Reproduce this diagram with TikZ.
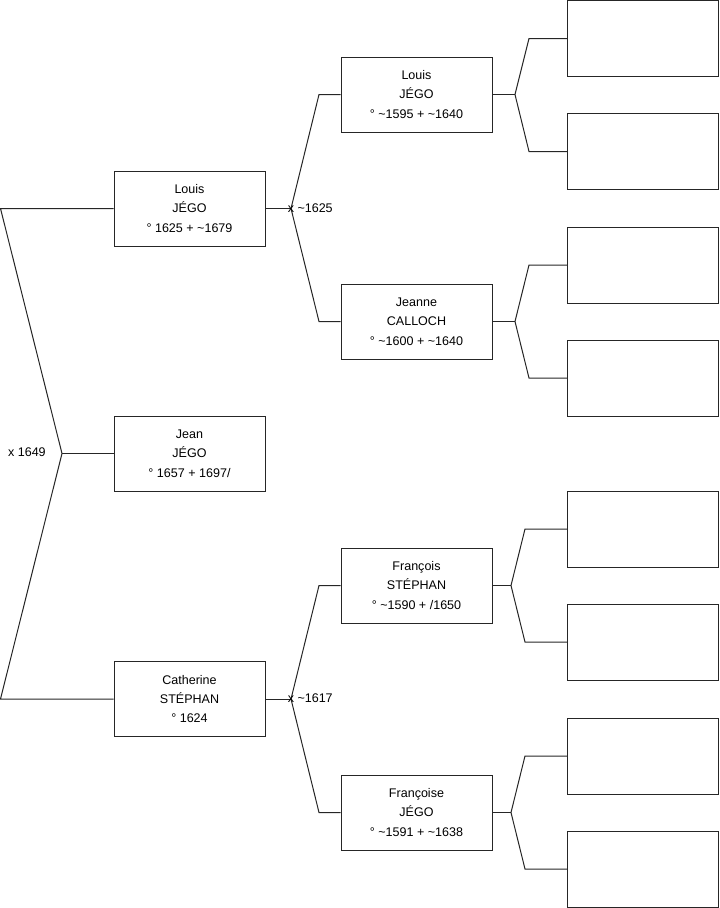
\documentclass[tikz,border=0pt]{standalone}
\usepackage{fontspec}
\setmainfont{Liberation Sans}
\usetikzlibrary{positioning, calc}

\begin{document}
\begin{tikzpicture}[
    x=0.75pt, y=-0.75pt,
    person/.style={draw=black!85, line width=0.75pt, minimum width=113.25pt, minimum height=56.25pt,
        inner sep=0pt, align=center, font=\fontsize{9.4}{14.6}\selectfont},
    unknown/.style={person, minimum height=57pt},
    link/.style={line width=0.75pt, black!85},
    mar/.style={font=\fontsize{9.4}{11}\selectfont, inner sep=0pt}
]

\useasboundingbox (0,0) rectangle (719,908);

% Generation 1: the child and his parents
\node[person] (louis) at (189.5,208.5) {Louis\\JÉGO\\° 1625 + \textasciitilde1679};
\node[person] (jean) at (189.5,453.5) {Jean\\JÉGO\\° 1657 + 1697/};
\node[person] (cath) at (189.5,699) {Catherine\\STÉPHAN\\° 1624};

% Generation 2: grandparents
\node[person] (louisP) at (416.5,94.5) {Louis\\JÉGO\\° \textasciitilde1595 + \textasciitilde1640};
\node[person] (jeanne) at (416.5,321.5) {Jeanne\\CALLOCH\\° \textasciitilde1600 + \textasciitilde1640};
\node[person] (franc) at (416.5,585.5) {François\\STÉPHAN\\° \textasciitilde1590 + /1650};
\node[person] (francoise) at (416.5,812.5) {Françoise\\JÉGO\\° \textasciitilde1591 + \textasciitilde1638};

% Generation 3: empty boxes
\foreach \n/\y in {a/38.5, b/151.5, c/265, d/378, e/529, f/642, g/756, h/869}
    \node[unknown] (g\n) at (643,\y) {};

% Marriage of the parents
\coordinate (t1) at (0.5,208.5);
\coordinate (t3) at (0.5,699);
\coordinate (m0) at (62,453.5);
\draw[link] (louis.west) -- (t1) -- (m0) -- (t3) -- (cath.west);
\draw[link] (m0) -- (jean.west);
\node[mar, anchor=east] (w0) at (46,452) {x 1649};

% Marriages of the grandparents
\coordinate (m1) at (291,208.5);
\coordinate (m2) at (291,699);
\draw[link] (louis.east) -- (m1);
\draw[link] (m1) -- (319,94.5) -- (louisP.west);
\draw[link] (m1) -- (319,321.5) -- (jeanne.west);
\node[mar, anchor=west] (w1) at (287.5,208) {x \textasciitilde1625};
\draw[link] (cath.east) -- (m2);
\draw[link] (m2) -- (319,585.5) -- (franc.west);
\draw[link] (m2) -- (319,812.5) -- (francoise.west);
\node[mar, anchor=west] (w2) at (287.5,698) {x \textasciitilde1617};

% Forks to generation 3
\coordinate (f1) at (515,94.5);
\coordinate (f2) at (515,321.5);
\coordinate (f3) at (511,585.5);
\coordinate (f4) at (511,812.5);
\draw[link] (louisP.east) -- (f1);
\draw[link] (f1) -- (529,38.5) -- (ga.west);
\draw[link] (f1) -- (529,151.5) -- (gb.west);
\draw[link] (jeanne.east) -- (f2);
\draw[link] (f2) -- (529,265) -- (gc.west);
\draw[link] (f2) -- (529,378) -- (gd.west);
\draw[link] (franc.east) -- (f3);
\draw[link] (f3) -- (525,529) -- (ge.west);
\draw[link] (f3) -- (525,642) -- (gf.west);
\draw[link] (francoise.east) -- (f4);
\draw[link] (f4) -- (525,756) -- (gg.west);
\draw[link] (f4) -- (525,869) -- (gh.west);

\end{tikzpicture}
\end{document}
